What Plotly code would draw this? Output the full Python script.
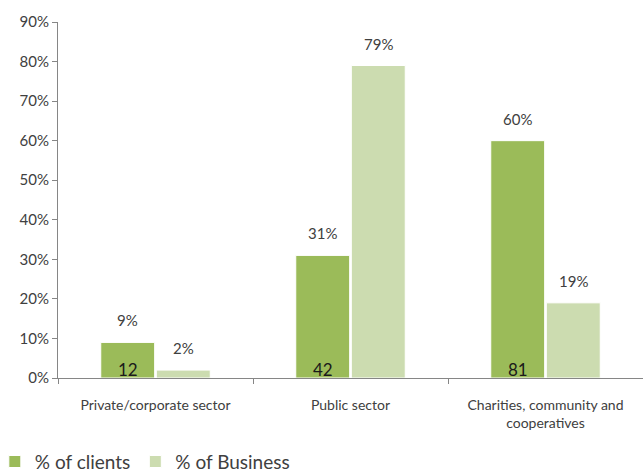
import plotly.graph_objects as go

categories = ["Private/corporate sector", "Public sector", "Charities, community and<br>cooperatives"]
pct_clients = [9, 31, 60]
pct_business = [2, 79, 19]
client_counts = [12, 42, 81]
tick_vals = [0, 10, 20, 30, 40, 50, 60, 70, 80, 90]

FONT = "Lato, 'Open Sans', sans-serif"
TXT = "#404040"
AXIS = "#868686"
CLIENT_COLOR = "#9BBB59"
BUSINESS_COLOR = "#CCDCB0"
HALF = 28  # pixel offset of each bar from its category centre

fig = go.Figure()
fig.add_trace(go.Bar(
    name="% of clients", x=categories, y=pct_clients,
    marker=dict(color=CLIENT_COLOR, line=dict(color="#FFFFFF", width=1)),
))
fig.add_trace(go.Bar(
    name="% of Business", x=categories, y=pct_business,
    marker=dict(color=BUSINESS_COLOR, line=dict(color="#FFFFFF", width=1)),
))

# percentage labels floating above each bar
for values, shift in ((pct_clients, -HALF), (pct_business, HALF)):
    for cat, v in zip(categories, values):
        fig.add_annotation(
            x=cat, y=v, xref="x", yref="y", text=f"{v}%", showarrow=False,
            xshift=shift, yanchor="bottom", yshift=11,
            font=dict(size=15, color=TXT, family=FONT),
        )

# client counts written at the foot of each clients bar
for cat, n in zip(categories, client_counts):
    fig.add_annotation(
        x=cat, y=0, xref="x", yref="y", text=str(n), showarrow=False,
        xshift=-HALF, yanchor="bottom", yshift=-4,
        font=dict(size=17, color="#1a1a1a", family=FONT),
    )

fig.update_layout(
    width=643, height=473,
    margin=dict(l=58, r=0, t=22, b=95, autoexpand=False),
    paper_bgcolor="white", plot_bgcolor="white",
    barmode="group", bargap=0.43, bargroupgap=0.03,
    font=dict(family=FONT, size=14, color=TXT),
    legend=dict(
        orientation="h", x=-0.108, xanchor="left", y=-0.235, yanchor="middle",
        font=dict(size=19, color=TXT, family=FONT),
        itemclick=False,
    ),
    showlegend=True,
)
fig.update_yaxes(
    range=[0, 90], tickvals=tick_vals, ticktext=[f"{v}%" for v in tick_vals],
    showgrid=False, zeroline=False, automargin=False,
    showline=True, linecolor=AXIS, linewidth=1,
    ticks="outside", ticklen=5, tickcolor=AXIS,
    tickfont=dict(size=15, color=TXT, family=FONT),
)
fig.update_xaxes(
    showgrid=False, showline=True, linecolor=AXIS, linewidth=1, automargin=False,
    ticks="outside", ticklen=5, tickcolor=AXIS, tickson="boundaries",
    ticklabelstandoff=14,
    tickfont=dict(size=14, color=TXT, family=FONT),
)

fig.write_html("out.html")
